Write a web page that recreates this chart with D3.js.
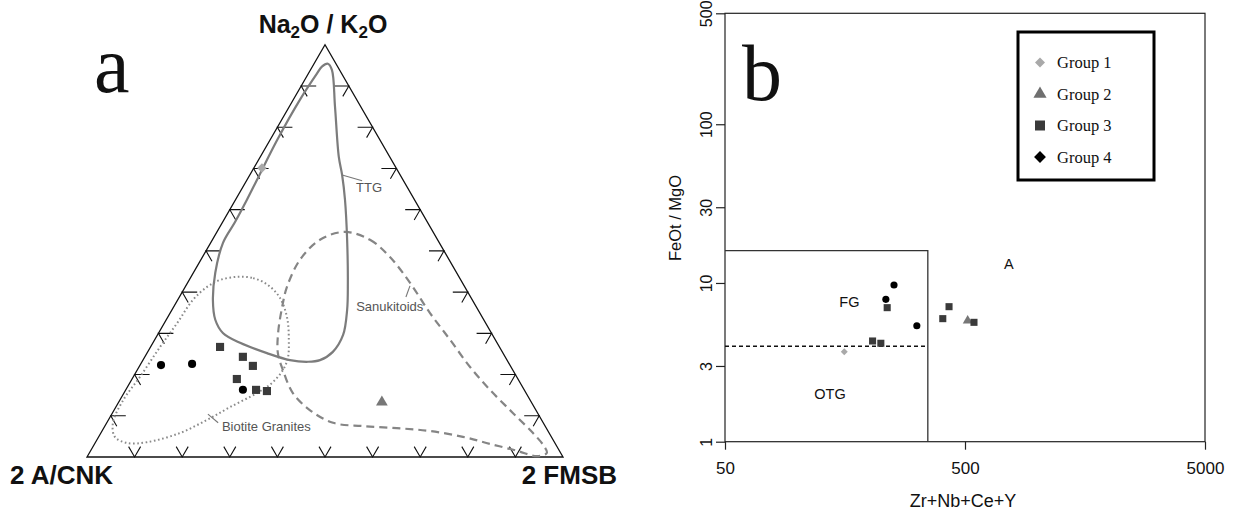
<!DOCTYPE html>
<html><head><meta charset="utf-8">
<script src="https://cdn.jsdelivr.net/npm/d3@7"></script>
<style>
html,body{margin:0;padding:0;background:#fff;}
svg{display:block;}
</style></head>
<body>
<svg id="chart" width="1237" height="512"></svg>
<script>
// ---- Sample groups ----
const groups = ["Group 1", "Group 2", "Group 3", "Group 4"];

// Ternary compositions: [Na2O/K2O, 2 A/CNK, 2 FMSB] in %
const group1Ternary = [[70.1, 28.2, 1.7]];
const group2Ternary = [[13.3, 31.4, 55.3]];
const group3Ternary = [
  [26.7, 58.7, 14.6], [24.3, 55.1, 20.6], [22.1, 54.1, 23.8],
  [18.9, 59.0, 22.0], [16.3, 56.4, 27.4], [16.0, 54.2, 29.8]
];
const group4Ternary = [[22.3, 73.3, 4.4], [22.6, 66.7, 10.8], [16.3, 59.1, 24.6]];

// Reference fields on the ternary diagram: [Na2O/K2O, 2 A/CNK, 2 FMSB]
const ttgField = [
  [95.4, 1.7, 2.9], [94.7, 3.3, 2.0], [93.0, 5.2, 1.8], [86.7, 11.9, 1.4],
  [76.9, 21.6, 1.5], [67.2, 30.7, 2.1], [62.4, 35.2, 2.4], [57.0, 40.4, 2.6],
  [51.9, 45.5, 2.6], [44.7, 50.7, 4.6], [38.1, 54.5, 7.4], [33.3, 56.4, 10.3],
  [30.1, 56.4, 13.5], [27.7, 54.0, 18.3], [25.2, 49.6, 25.2], [23.5, 45.6, 30.9],
  [23.1, 42.0, 34.9], [23.5, 39.3, 37.2], [25.5, 35.6, 38.9], [29.6, 31.4, 39.0],
  [35.7, 27.5, 36.8], [42.2, 24.1, 33.7], [52.7, 19.0, 28.3], [62.4, 14.6, 23.0],
  [68.4, 12.2, 19.4], [72.8, 10.7, 16.5], [85.0, 5.4, 9.6], [93.9, 1.6, 4.5]
];
const sanukitoidField = [
  [54.6, 18.5, 26.9], [52.7, 14.2, 33.1], [48.5, 12.1, 39.4], [42.2, 11.0, 46.7],
  [35.0, 10.5, 54.6], [28.4, 9.5, 62.1], [21.8, 8.6, 69.5], [16.3, 7.2, 76.5],
  [10.7, 5.2, 84.2], [5.8, 3.4, 90.8], [2.9, 2.7, 94.4], [1.0, 2.9, 96.2],
  [0.2, 5.3, 94.4], [1.5, 8.9, 89.6], [3.2, 13.8, 83.1], [4.9, 18.6, 76.6],
  [6.3, 24.8, 68.9], [7.0, 31.4, 61.6], [7.5, 38.3, 54.2], [8.3, 44.2, 47.6],
  [11.4, 47.5, 41.1], [15.5, 49.0, 35.5], [21.1, 48.3, 30.6], [25.2, 47.3, 27.5],
  [30.1, 44.8, 25.1], [36.4, 40.8, 22.8], [41.3, 37.4, 21.4], [47.8, 31.3, 20.8],
  [52.7, 24.7, 22.6]
];
const biotiteGraniteField = [
  [43.7, 46.6, 9.7], [43.4, 43.4, 13.2], [41.7, 41.1, 17.1], [38.6, 40.2, 21.3],
  [33.7, 41.1, 25.2], [28.4, 43.4, 28.2], [24.0, 45.8, 30.2], [21.1, 48.3, 30.6],
  [18.0, 52.1, 29.9], [15.5, 56.5, 27.9], [12.1, 63.9, 24.0], [9.0, 70.3, 20.7],
  [5.8, 77.6, 16.6], [3.6, 85.6, 10.8], [3.4, 89.9, 6.7], [4.9, 91.7, 3.4],
  [8.3, 90.4, 1.3], [13.8, 85.5, 0.7], [19.4, 79.2, 1.4], [26.7, 71.3, 2.0],
  [32.5, 64.8, 2.7], [38.1, 58.7, 3.2], [41.3, 54.2, 4.6], [43.0, 50.6, 6.5]
];
const ternaryTicks = [10, 20, 30, 40, 50, 60, 70, 80, 90];

// Whalen et al. diagram: [Zr+Nb+Ce+Y (ppm), FeOt/MgO]
const group1Whalen = [[157, 3.69]];
const group2Whalen = [[513, 5.79]];
const group3Whalen = [[237, 6.99], [206, 4.31], [223, 4.17], [429, 7.09], [404, 5.96], [545, 5.65]];
const group4Whalen = [[253, 9.71], [234, 7.89], [315, 5.38]];

// Field boundaries (FG / OTG / A-type)
const fgLimitZr = 350;
const fgLimitFeMg = 16;
const otgLimitFeMg = 4;

const xTickValues = [50, 500, 5000];
const yTickValues = [1, 3, 10, 30, 100, 500];

// ---- Drawing ----
const svg = d3.select("#chart");
const sans = "'Liberation Sans', Arial, sans-serif";
const serif = "'Liberation Serif', 'Times New Roman', serif";

const style = {
  "Group 1": { symbol: d3.symbolSquare, rot: 45, fill: "#a9a9a9" },
  "Group 2": { symbol: d3.symbolTriangle, rot: 0, fill: "#777777" },
  "Group 3": { symbol: d3.symbolSquare, rot: 0, fill: "#3a3a3a" },
  "Group 4": { symbol: d3.symbolCircle, rot: 0, fill: "#000000" }
};

// ===== Panel a: ternary =====
const tri = svg.append("g");
const origin = { x: 87, y: 457 };
const side = d3.scaleLinear().domain([0, 100]).range([0, 476]);
const h = Math.sqrt(3) / 2;
function project(p) {
  const s = p[0] + p[1] + p[2];
  const t = 100 * p[0] / s, r = 100 * p[2] / s;
  return [origin.x + side(r) + side(t) / 2, origin.y - side(t) * h];
}

const apex = project([100, 0, 0]), bl = project([0, 100, 0]), br = project([0, 0, 100]);
tri.append("path")
  .attr("d", d3.line()([apex, bl, br]) + "Z")
  .attr("fill", "none").attr("stroke", "#111").attr("stroke-width", 1.3);

// Tick marks along each edge
const tickG = tri.append("g").attr("stroke", "#111").attr("stroke-width", 1.1).attr("fill", "none");
const armLong = 15, armShort = 12;
ternaryTicks.forEach(v => {
  // bottom edge
  const b = project([0, 100 - v, v]);
  tickG.append("path").attr("d", d3.line()([
    [b[0] - armShort / 2, b[1] - armShort * h], b, [b[0] + armShort / 2, b[1] - armShort * h]
  ]));
  // left edge
  const l = project([v, 100 - v, 0]);
  tickG.append("path").attr("d", d3.line()([[l[0] + armLong, l[1]], l, [l[0] + armShort / 2, l[1] + armShort * h]]));
  // right edge
  const r = project([v, 0, 100 - v]);
  tickG.append("path").attr("d", d3.line()([[r[0] - armLong, r[1]], r, [r[0] - armShort / 2, r[1] + armShort * h]]));
});

const fieldLine = d3.line().curve(d3.curveCatmullRomClosed.alpha(0.5));
tri.append("path").attr("d", fieldLine(biotiteGraniteField.map(project)))
  .attr("fill", "none").attr("stroke", "#8a8a8a").attr("stroke-width", 2)
  .attr("stroke-dasharray", "1.6,2.6");
tri.append("path").attr("d", fieldLine(sanukitoidField.map(project)))
  .attr("fill", "none").attr("stroke", "#858585").attr("stroke-width", 2.2)
  .attr("stroke-dasharray", "8,5");
tri.append("path").attr("d", fieldLine(ttgField.map(project)))
  .attr("fill", "none").attr("stroke", "#7c7c7c").attr("stroke-width", 2.2);

// Field labels with leaders
function leader(a, b) {
  tri.append("path").attr("d", d3.line()([project(a), project(b)]))
    .attr("stroke", "#777").attr("stroke-width", 1.1).attr("fill", "none");
}
function fieldLabel(p, txt, anchor) {
  const q = project(p);
  tri.append("text").attr("x", q[0]).attr("y", q[1] + 4.5).attr("text-anchor", anchor)
    .attr("font-family", sans).attr("font-size", 13).attr("fill", "#555").text(txt);
}
leader([68.4, 12.2, 19.4], [67.0, 8.7, 24.3]);
fieldLabel([65.3, 8.1, 26.6], "TTG", "middle");
leader([41.5, 11.4, 47.1], [38.8, 13.6, 47.6]);
fieldLabel([36.4, 18.2, 45.4], "Sanukitoids", "middle");
leader([10.4, 69.4, 20.2], [8.3, 68.3, 23.4]);
fieldLabel([7.5, 67.9, 24.6], "Biotite Granites", "start");

// Samples
const ternarySets = [group1Ternary, group2Ternary, group3Ternary, group4Ternary];
const ternarySize = { "Group 1": 46, "Group 2": 60, "Group 3": 66, "Group 4": 52 };
ternarySets.forEach((set, i) => {
  const g = groups[i];
  tri.selectAll(null).data(set).enter().append("path")
    .attr("d", d3.symbol().type(style[g].symbol).size(ternarySize[g]))
    .attr("transform", d => { const q = project(d); return `translate(${q[0]},${q[1]}) rotate(${style[g].rot})`; })
    .attr("fill", style[g].fill);
});

// Apex labels
svg.append("text").attr("x", 323).attr("y", 33).attr("text-anchor", "middle")
  .attr("font-family", sans).attr("font-weight", "bold").attr("font-size", 25).attr("fill", "#111")
  .call(t => {
    t.append("tspan").text("Na");
    t.append("tspan").attr("font-size", 17).attr("dy", 5).text("2");
    t.append("tspan").attr("dy", -5).text("O / K");
    t.append("tspan").attr("font-size", 17).attr("dy", 5).text("2");
    t.append("tspan").attr("dy", -5).text("O");
  });
svg.append("text").attr("x", 10).attr("y", 484)
  .attr("font-family", sans).attr("font-weight", "bold").attr("font-size", 26).attr("fill", "#111")
  .text("2 A/CNK");
svg.append("text").attr("x", 617).attr("y", 484).attr("text-anchor", "end")
  .attr("font-family", sans).attr("font-weight", "bold").attr("font-size", 26).attr("fill", "#111")
  .text("2 FMSB");
svg.append("text").attr("x", 94).attr("y", 92)
  .attr("font-family", serif).attr("font-size", 80).attr("fill", "#111").text("a");

// ===== Panel b: Whalen diagram =====
const x = d3.scaleLog().domain([50, 5000]).range([725, 1205]);
const y = d3.scaleLog().domain([1, 500]).range([441.7, 13.3]);
const pb = svg.append("g");

pb.append("rect").attr("x", x(50)).attr("y", y(500))
  .attr("width", x(5000) - x(50)).attr("height", y(1) - y(500))
  .attr("fill", "none").attr("stroke", "#222").attr("stroke-width", 1.2);

const xAxis = pb.append("g").attr("transform", `translate(0,${y(1)})`)
  .call(d3.axisBottom(x).tickValues(xTickValues).tickFormat(d3.format("d")).tickSize(8));
xAxis.select(".domain").remove();
xAxis.selectAll("line").attr("stroke", "#222").attr("stroke-width", 1.2);
xAxis.selectAll("text").attr("y", 20).attr("font-family", sans).attr("font-size", 17).attr("fill", "#111");

const yAxis = pb.append("g").attr("transform", `translate(${x(50)},0)`)
  .call(d3.axisLeft(y).tickValues(yTickValues).tickFormat(d3.format("d")).tickSize(9));
yAxis.select(".domain").remove();
yAxis.selectAll("line").attr("stroke", "#222").attr("stroke-width", 1.2);
yAxis.selectAll("text")
  .attr("x", null).attr("dy", null)
  .attr("transform", "translate(-13,0) rotate(-90)")
  .attr("text-anchor", "middle")
  .attr("font-family", sans).attr("font-size", 16).attr("fill", "#111");

// FG box and OTG divider
pb.append("path")
  .attr("d", d3.line()([[x(50), y(fgLimitFeMg)], [x(fgLimitZr), y(fgLimitFeMg)], [x(fgLimitZr), y(1)]]))
  .attr("fill", "none").attr("stroke", "#333").attr("stroke-width", 1.3);
pb.append("path")
  .attr("d", d3.line()([[x(50), y(otgLimitFeMg)], [x(fgLimitZr), y(otgLimitFeMg)]]))
  .attr("fill", "none").attr("stroke", "#111").attr("stroke-width", 1.5).attr("stroke-dasharray", "4,3");

// Region labels
[["A", 762, 13.2], ["FG", 165, 7.6], ["OTG", 137, 2.0]].forEach(([txt, zx, fy]) => {
  pb.append("text").attr("x", x(zx)).attr("y", y(fy) + 5).attr("text-anchor", "middle")
    .attr("font-family", sans).attr("font-size", 14.5).attr("fill", "#111").text(txt);
});

// Samples
const whalenSets = [group1Whalen, group2Whalen, group3Whalen, group4Whalen];
const whalenSize = { "Group 1": 24, "Group 2": 42, "Group 3": 50, "Group 4": 40 };
whalenSets.forEach((set, i) => {
  const g = groups[i];
  pb.selectAll(null).data(set).enter().append("path")
    .attr("d", d3.symbol().type(style[g].symbol).size(whalenSize[g]))
    .attr("transform", d => `translate(${x(d[0])},${y(d[1])}) rotate(${style[g].rot})`)
    .attr("fill", style[g].fill);
});

// Axis titles
pb.append("text").attr("x", 963).attr("y", 507).attr("text-anchor", "middle")
  .attr("font-family", sans).attr("font-size", 18).attr("fill", "#111").text("Zr+Nb+Ce+Y");
pb.append("text").attr("transform", "translate(681,218) rotate(-90)").attr("text-anchor", "middle")
  .attr("font-family", sans).attr("font-size", 16.5).attr("fill", "#111").text("FeOt / MgO");

pb.append("text").attr("x", 742).attr("y", 100)
  .attr("font-family", serif).attr("font-size", 80).attr("fill", "#111").text("b");

// Legend
const legendMarks = {
  "Group 1": { symbol: d3.symbolSquare, rot: 45, fill: "#a9a9a9", size: 50 },
  "Group 2": { symbol: d3.symbolTriangle, rot: 0, fill: "#6f6f6f", size: 75 },
  "Group 3": { symbol: d3.symbolSquare, rot: 0, fill: "#3a3a3a", size: 100 },
  "Group 4": { symbol: d3.symbolSquare, rot: 45, fill: "#000000", size: 70 }
};
const lg = pb.append("g");
lg.append("rect").attr("x", 1018).attr("y", 32).attr("width", 136).attr("height", 148)
  .attr("fill", "#fff").attr("stroke", "#000").attr("stroke-width", 3);
const rowY = d3.scalePoint().domain(groups).range([62.5, 157]);
groups.forEach(g => {
  const m = legendMarks[g];
  lg.append("path").attr("d", d3.symbol().type(m.symbol).size(m.size)())
    .attr("transform", `translate(1040,${rowY(g)}) rotate(${m.rot})`).attr("fill", m.fill);
  lg.append("text").attr("x", 1057).attr("y", rowY(g) + 5.5)
    .attr("font-family", serif).attr("font-size", 16.5).attr("fill", "#111").text(g);
});
</script>
</body></html>
